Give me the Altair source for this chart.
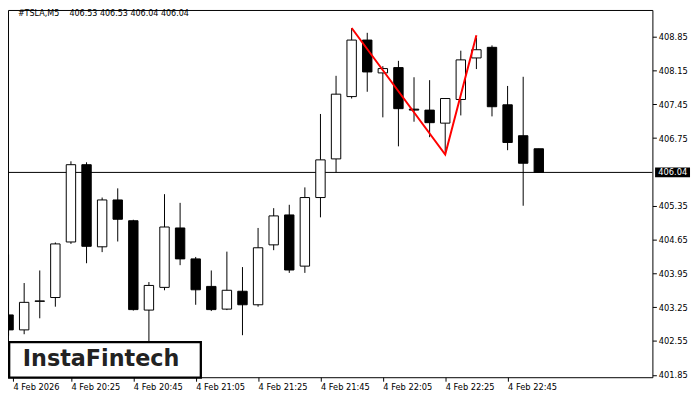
import altair as alt
import pandas as pd

# ---- data (M5 candles, 4 Feb 2026) ----
times = ["20:05", "20:10", "20:15", "20:20", "20:25", "20:30", "20:35", "20:40",
         "20:45", "20:50", "20:55", "21:00", "21:05", "21:10", "21:15", "21:20",
         "21:25", "21:30", "21:35", "21:40", "21:45", "21:50", "21:55", "22:00",
         "22:05", "22:10", "22:15", "22:20", "22:25", "22:30", "22:35", "22:40",
         "22:45", "22:50", "22:55"]
opens = [403.09, 402.78, 403.37, 403.45, 404.60, 406.20, 404.50, 405.47,
         405.04, 403.19, 403.66, 404.89, 404.25, 403.68, 403.21, 403.58,
         403.30, 404.54, 405.16, 404.10, 405.52, 406.32, 407.61, 408.78,
         408.10, 408.21, 407.35, 407.33, 407.06, 407.55, 408.41, 408.63,
         407.44, 406.80, 406.53]
highs = [404.34, 403.75, 404.01, 404.59, 406.27, 406.25, 405.52, 405.71,
         405.06, 403.77, 405.59, 405.41, 404.29, 404.01, 404.40, 404.08,
         404.89, 405.30, 405.37, 405.73, 407.25, 408.04, 409.03, 408.93,
         408.24, 408.35, 408.01, 407.95, 407.57, 408.56, 408.83, 408.67,
         407.83, 408.02, 406.53]
lows = [402.66, 402.69, 403.02, 403.26, 404.56, 404.16, 404.39, 404.61,
        403.18, 402.55, 403.60, 404.12, 403.30, 403.17, 403.19, 402.67,
        403.26, 404.43, 403.96, 403.96, 405.11, 406.04, 407.57, 407.71,
        407.18, 406.58, 407.09, 406.77, 406.41, 407.22, 408.18, 407.20,
        406.50, 405.35, 406.04]
closes = [402.78, 403.35, 403.38, 404.56, 406.20, 404.51, 405.47, 405.07,
          403.20, 403.70, 404.91, 404.25, 403.61, 403.20, 403.60, 403.30,
          404.48, 405.14, 404.02, 405.52, 406.30, 407.66, 408.78, 408.12,
          408.19, 407.36, 407.33, 407.07, 407.57, 408.37, 408.58, 407.40,
          406.66, 406.23, 406.04]

# double-top pattern line (time, price)
pattern_times = ["21:55", "22:25", "22:35"]
pattern_prices = [409.03, 406.41, 408.88]

current_price = 406.04
title_text = "#TSLA,M5\u00a0\u00a0\u00a0\u00a0406.53 406.53 406.04 406.04"

tick_times = ["20:05", "20:25", "20:45", "21:05", "21:25", "21:45", "22:05", "22:25", "22:45"]
tick_labels = ["4 Feb 2026", "4 Feb 20:25", "4 Feb 20:45", "4 Feb 21:05", "4 Feb 21:25",
               "4 Feb 21:45", "4 Feb 22:05", "4 Feb 22:25", "4 Feb 22:45"]
y_ticks = [401.85, 402.55, 403.25, 403.95, 404.65, 405.35, 406.75, 407.45, 408.15, 408.85]

# ---- frames ----
df = pd.DataFrame({"idx": list(range(len(times))), "time": times, "open": opens,
                   "high": highs, "low": lows, "close": closes})
pat = pd.DataFrame({"idx": [times.index(t) for t in pattern_times], "price": pattern_prices})
cur = pd.DataFrame({"price": [current_price], "label": [f"{current_price:.2f}"]})
one = pd.DataFrame({"t": [title_text], "logo": ["InstaFintech"]})

W, H = 651, 371
x_min = 0.28125
x_max = x_min + W / 16.0
y_dom = [401.80, 409.403]

tick_pos = [max(times.index(t), x_min) for t in tick_times]
label_expr = ("[" + ",".join(f"'{l}'" for l in tick_labels) + "][indexof(["
              + ",".join(str(p) for p in tick_pos) + "], datum.value)]")

FONT = "DejaVu Sans Condensed, Liberation Sans, sans-serif"

xs = alt.Scale(domain=[x_min, x_max], nice=False, zero=False)
ys = alt.Scale(domain=y_dom, nice=False, zero=False)

x_enc = alt.X("idx:Q", scale=xs, title=None,
              axis=alt.Axis(values=tick_pos, labelExpr=label_expr, orient="bottom",
                            domain=False, grid=False, ticks=True, tickSize=4,
                            tickColor="black", labelAlign="left", labelPadding=1,
                            labelFontSize=9.3, labelFont=FONT, labelColor="black",
                            labelOverlap=False, labelFlush=False))
y_axis = alt.Axis(values=y_ticks, format=".2f", orient="right", domain=False, grid=False,
                  tickSize=4, tickColor="black", labelPadding=2, labelFontSize=9.3,
                  labelFont=FONT, labelColor="black", labelOverlap=False, labelFlush=False)

base = alt.Chart(df)

hline = alt.Chart(cur).mark_rule(color="black", strokeWidth=1).encode(
    y=alt.Y("price:Q", scale=ys, axis=y_axis, title=None))

wicks = base.mark_rule(color="black", strokeWidth=1, clip=True).encode(
    x=x_enc,
    y=alt.Y("low:Q", scale=ys, axis=y_axis, title=None),
    y2="high:Q")

bodies = base.mark_bar(size=9.5, stroke="black", strokeWidth=1, clip=True).encode(
    x=alt.X("idx:Q", scale=xs),
    y=alt.Y("open:Q", scale=ys),
    y2="close:Q",
    fill=alt.condition("datum.close > datum.open", alt.value("white"), alt.value("black")))

pattern = alt.Chart(pat).mark_line(color="#ff0000", strokeWidth=2).encode(
    x=alt.X("idx:Q", scale=xs), y=alt.Y("price:Q", scale=ys))

title = alt.Chart(one).mark_text(align="left", baseline="alphabetic", fontSize=9,
                                 font=FONT, color="black").encode(
    x=alt.value(10), y=alt.value(6), text="t:N")

logo_box = alt.Chart(one).mark_rect(fill="white", stroke="black", strokeWidth=2.3).encode(
    x=alt.value(1.2), x2=alt.value(194.8), y=alt.value(335.5), y2=alt.value(371.5))

logo_text = alt.Chart(one).mark_text(align="center", baseline="alphabetic", fontSize=22.5,
                                     font="DejaVu Sans", fontWeight="bold",
                                     color="#222222").encode(
    x=alt.value(94), y=alt.value(359.5), text="logo:N")

price_box = alt.Chart(cur).mark_rule(color="black", strokeWidth=10).encode(
    x=alt.value(653.7), x2=alt.value(689), y=alt.Y("price:Q", scale=ys))

price_text = alt.Chart(cur).mark_text(align="left", baseline="middle", fontSize=9.3,
                                      font=FONT, color="white").encode(
    x=alt.value(657), y=alt.Y("price:Q", scale=ys), text="label:N")

chart = alt.layer(hline, wicks, bodies, pattern, title, logo_box, logo_text,
                  price_box, price_text).properties(
    width=W, height=H,
    padding={"left": 0, "top": 0, "right": 40, "bottom": 20},
    autosize=alt.AutoSizeParams(type="none"),
    background="white",
).configure_view(stroke="black", strokeWidth=1)

chart.save("out.html", embed_options={"renderer": "svg", "actions": False})
